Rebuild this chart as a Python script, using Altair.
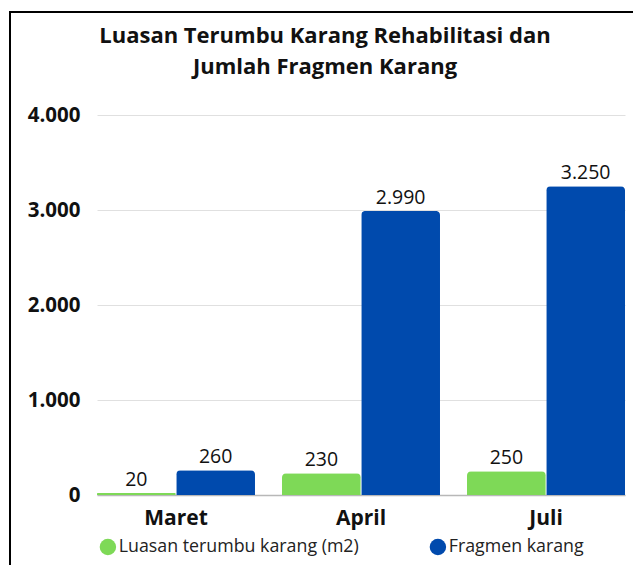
import altair as alt
import pandas as pd

months = ["Maret", "April", "Juli"]
series = ["Luasan terumbu karang (m2)", "Fragmen karang"]
luasan = [20, 230, 250]
fragmen = [260, 2990, 3250]
colors = ["#7ED957", "#004AAD"]

rows = []
for i, m in enumerate(months):
    rows.append({"bulan": m, "seri": series[0], "nilai": luasan[i]})
    rows.append({"bulan": m, "seri": series[1], "nilai": fragmen[i]})
df = pd.DataFrame(rows)

FONT = "Open Sans"

base = alt.Chart(df).encode(
    x=alt.X("bulan:N", sort=months, title=None,
            scale=alt.Scale(paddingInner=0.146, paddingOuter=0),
            axis=alt.Axis(labelAngle=0, labelFontSize=21, labelFontWeight="bold",
                          labelColor="#111", labelPadding=12, ticks=False,
                          domain=True, domainColor="#b8b8b8", domainWidth=1.5)),
    xOffset=alt.XOffset("seri:N", sort=series, scale=alt.Scale(paddingInner=0.006)),
)

bars = base.mark_bar(cornerRadiusTopLeft=4, cornerRadiusTopRight=4).encode(
    y=alt.Y("nilai:Q", title=None,
            scale=alt.Scale(domain=[0, 4000]),
            axis=alt.Axis(values=[0, 1000, 2000, 3000, 4000], labelFontSize=20.5,
                          labelFontWeight="bold", labelColor="#111", labelPadding=17,
                          ticks=False, domain=False, gridColor="#e0e0e0",
                          labelExpr="replace(format(datum.value, ','), ',', '.')")),
    color=alt.Color("seri:N", sort=series,
                    scale=alt.Scale(domain=series, range=colors),
                    legend=alt.Legend(title=None, orient="none", direction="horizontal",
                                      legendX=2, legendY=423, symbolType="circle",
                                      symbolSize=270, symbolStrokeWidth=0,
                                      labelFontSize=17.8, labelColor="#222",
                                      labelFont=FONT, labelLimit=0, labelOffset=2,
                                      columnPadding=70)),
)

labels = base.transform_calculate(
    lbl="replace(format(datum.nilai, ','), ',', '.')"
).mark_text(baseline="bottom", dy=-3, fontSize=19.5, color="#111", font=FONT).encode(
    y="nilai:Q",
    text="lbl:N",
)

frame_left = alt.Chart(alt.Data(values=[{}])).mark_rule(color="#000", strokeWidth=2).encode(
    x=alt.value(-87), y=alt.value(-104), y2=alt.value(460))
frame_top = alt.Chart(alt.Data(values=[{}])).mark_rule(color="#000", strokeWidth=2).encode(
    x=alt.value(-88), x2=alt.value(545), y=alt.value(-103))

chart = alt.layer(bars, labels, frame_left, frame_top).properties(
    width=528, height=380,
    padding={"left": 97, "top": 115, "right": 8, "bottom": 70},
    autosize=alt.AutoSizeParams(type="none"),
    title=alt.TitleParams(
        ["Luasan Terumbu Karang Rehabilitasi dan", "Jumlah Fragmen Karang"],
        anchor="middle", frame="group", fontSize=22, fontWeight="bold", font=FONT,
        color="#111", lineHeight=31, offset=-69, dx=-36),
).configure(font=FONT).configure_view(stroke=None)

chart.save("out.html", embed_options={"renderer": "svg", "actions": False})
